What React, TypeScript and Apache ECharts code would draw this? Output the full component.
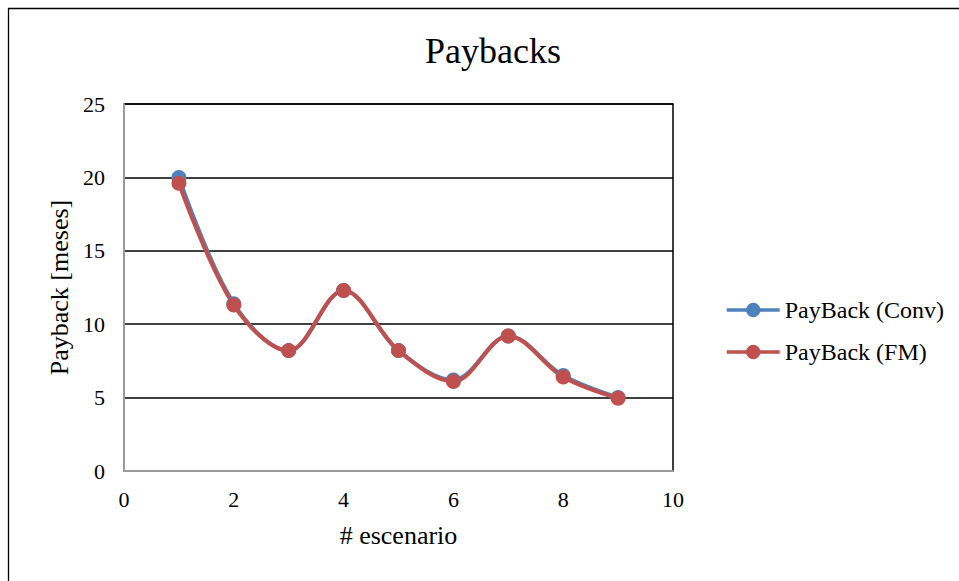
import React, { useEffect, useRef } from "react";
import * as echarts from "echarts";

const scenarios = [1, 2, 3, 4, 5, 6, 7, 8, 9];
const paybackConv = [20.0, 11.4, 8.2, 12.3, 8.2, 6.2, 9.2, 6.5, 5.0];
const paybackFM = [19.6, 11.3, 8.2, 12.3, 8.2, 6.1, 9.2, 6.4, 4.95];
const seriesNames = ["PayBack (Conv)", "PayBack (FM)"];

const FONT = "'Liberation Serif', 'Times New Roman', serif";

export default function App() {
  const ref = useRef<HTMLDivElement>(null);
  useEffect(() => {
    if (!ref.current) return;
    const chart = echarts.init(ref.current, null, { renderer: "svg" });
    const toPairs = (vals: number[]) => scenarios.map((s, i) => [s, vals[i]]);
    chart.setOption({
      animation: false,
      backgroundColor: "#fff",
      textStyle: { fontFamily: FONT, color: "#000" },
      title: {
        text: "Paybacks",
        left: 488,
        top: 28,
        textAlign: "center",
        textStyle: { fontFamily: FONT, fontSize: 36, fontWeight: "normal", color: "#000" },
      },
      graphic: [
        {
          type: "rect",
          shape: { x: 8.5, y: 8.5, width: 1200, height: 1200 },
          style: { fill: "none", stroke: "#000", lineWidth: 1.3 },
          silent: true,
        },
      ],
      legend: {
        orient: "vertical",
        left: 720,
        top: 293,
        itemWidth: 53,
        itemHeight: 18,
        itemGap: 18,
        lineStyle: { width: 3.5 },
        textStyle: { fontFamily: FONT, fontSize: 24, color: "#000" },
        data: seriesNames,
      },
      grid: {
        left: 124,
        right: 286,
        top: 104,
        bottom: 110,
        show: true,
        borderColor: "#000",
        borderWidth: 1.5,
        backgroundColor: "#fff",
      },
      xAxis: {
        type: "value",
        min: 0,
        max: 10,
        interval: 2,
        name: "# escenario",
        nameLocation: "middle",
        nameGap: 51,
        nameTextStyle: { fontFamily: FONT, fontSize: 26, color: "#000" },
        axisLine: { show: true, lineStyle: { color: "#999", width: 2 } },
        axisTick: { show: false },
        splitLine: { show: false },
        axisLabel: { fontFamily: FONT, fontSize: 22, color: "#000", margin: 17 },
      },
      yAxis: {
        type: "value",
        min: 0,
        max: 25,
        interval: 5,
        name: "Payback [meses]",
        nameLocation: "middle",
        nameGap: 52,
        nameTextStyle: { fontFamily: FONT, fontSize: 26, color: "#000" },
        axisLine: { show: true, lineStyle: { color: "#999", width: 2 } },
        axisTick: { show: false },
        splitLine: { show: true, lineStyle: { color: "#000", width: 1.6 } },
        axisLabel: { fontFamily: FONT, fontSize: 22, color: "#000", margin: 19 },
      },
      series: [
        {
          name: seriesNames[0],
          type: "line",
          smooth: 0.35,
          data: toPairs(paybackConv),
          symbol: "circle",
          symbolSize: 15,
          itemStyle: { color: "#4F81BD" },
          lineStyle: { color: "#4F81BD", width: 4 },
        },
        {
          name: seriesNames[1],
          type: "line",
          smooth: 0.35,
          data: toPairs(paybackFM),
          symbol: "circle",
          symbolSize: 15,
          itemStyle: { color: "#C0504D" },
          lineStyle: { color: "#C0504D", width: 4 },
        },
      ],
    });
    return () => chart.dispose();
  }, []);
  return (
    <div
      ref={ref}
      style={{ position: "fixed", left: 0, top: 0, width: 959, height: 581 }}
    />
  );
}
